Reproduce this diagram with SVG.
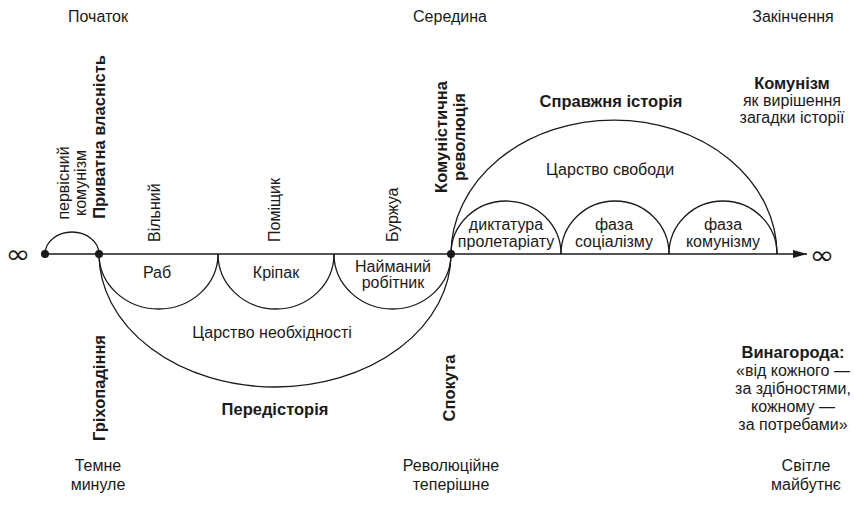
<svg xmlns="http://www.w3.org/2000/svg" width="854" height="510" viewBox="0 0 854 510">
<style>
.t{font-family:"Liberation Sans",Arial,sans-serif;font-size:16px;fill:#1a1a1a}
.b{font-weight:bold;font-size:16.5px}
.m{text-anchor:middle}
.arc{fill:none;stroke:#1a1a1a;stroke-width:1.3}
.dot{fill:#1a1a1a}
.inf{font-family:"DejaVu Sans",sans-serif;font-size:26px;fill:#1a1a1a}
</style>
<defs>
<marker id="arrow" markerWidth="14" markerHeight="8" refX="14" refY="4" orient="auto" markerUnits="userSpaceOnUse">
<path d="M0,0 L14,4 L0,8 Z" fill="#1a1a1a"/>
</marker>
</defs>
<rect width="854" height="510" fill="#ffffff"/>

<g id="connectors">
<line class="arc" x1="45" y1="254" x2="807" y2="254" stroke-width="1.4" marker-end="url(#arrow)"/>
<path class="arc" d="M45,254 A27,22 0 0 1 99,254"/>
<path class="arc" d="M99,254 A176,133 0 0 0 451,254"/>
<path class="arc" d="M99,254 A59.5,55 0 0 0 218,254"/>
<path class="arc" d="M218,254 A58,55 0 0 0 334,254"/>
<path class="arc" d="M334,254 A58.5,55 0 0 0 451,254"/>
<path class="arc" d="M451,254 A163,134 0 0 1 777,254"/>
<path class="arc" d="M451,254 A55,53 0 0 1 561,254"/>
<path class="arc" d="M561,254 A54,53 0 0 1 669,254"/>
<path class="arc" d="M669,254 A54,53 0 0 1 777,254"/>
<circle class="dot" cx="45" cy="254" r="4"/>
<circle class="dot" cx="99" cy="254" r="4"/>
<circle class="dot" cx="451" cy="254" r="4"/>
</g>

<g id="infinity-left"><text class="inf" x="18" y="263" text-anchor="middle" transform="translate(18,0) scale(1.15,1) translate(-18,0)">∞</text></g>
<g id="infinity-right"><text class="inf" x="822" y="264" text-anchor="middle" transform="translate(822,0) scale(1.15,1) translate(-822,0)">∞</text></g>

<g id="timeline-top">
<text class="t m" x="98" y="22">Початок</text>
<text class="t m" x="450" y="22">Середина</text>
<text class="t m" x="793" y="22">Закінчення</text>
</g>
<g id="timeline-bottom">
<text class="t m" x="98" y="471">Темне</text>
<text class="t m" x="98" y="490">минуле</text>
<text class="t m" x="451" y="471">Революційне</text>
<text class="t m" x="451" y="490">теперішне</text>
<text class="t m" x="806" y="471">Світле</text>
<text class="t m" x="806" y="490">майбутнє</text>
</g>

<g id="primitive-communism">
<text class="t m" transform="translate(69,183) rotate(-90)">первісний</text>
<text class="t m" transform="translate(86,183) rotate(-90)">комунізм</text>
</g>
<g id="private-property"><text class="t b m" transform="translate(105,137) rotate(-90)">Приватна власність</text></g>
<g id="fall"><text class="t b m" transform="translate(105,388) rotate(-90)">Гріхопадіння</text></g>

<g id="free"><text class="t" transform="translate(160,242) rotate(-90)">Вільний</text></g>
<g id="landlord"><text class="t" transform="translate(280,242) rotate(-90)">Поміщик</text></g>
<g id="bourgeois"><text class="t" transform="translate(398,242) rotate(-90)">Буржуа</text></g>

<g id="slave"><text class="t m" x="157" y="278">Раб</text></g>
<g id="serf"><text class="t m" x="276" y="278">Кріпак</text></g>
<g id="worker">
<text class="t m" x="393" y="272">Найманий</text>
<text class="t m" x="393" y="288">робітник</text>
</g>
<g id="necessity"><text class="t m" x="272" y="338">Царство необхідності</text></g>
<g id="prehistory"><text class="t b m" x="275" y="415">Передісторія</text></g>

<g id="revolution">
<text class="t b m" transform="translate(447,137) rotate(-90)">Комуністична</text>
<text class="t m b" transform="translate(465,137) rotate(-90)">революція</text>
</g>
<g id="redemption"><text class="t b m" transform="translate(455,388) rotate(-90)">Спокута</text></g>

<g id="true-history"><text class="t b m" x="611" y="107">Справжня історія</text></g>
<g id="freedom"><text class="t m" x="610" y="175">Царство свободи</text></g>
<g id="dictatorship">
<text class="t m" x="506" y="230">диктатура</text>
<text class="t m" x="506" y="247">пролетаріату</text>
</g>
<g id="socialism">
<text class="t m" x="614" y="230">фаза</text>
<text class="t m" x="614" y="247">соціалізму</text>
</g>
<g id="communism-phase">
<text class="t m" x="723" y="230">фаза</text>
<text class="t m" x="723" y="247">комунізму</text>
</g>

<g id="communism-end">
<text class="t b m" x="792" y="89">Комунізм</text>
<text class="t m" x="792" y="106">як вирішення</text>
<text class="t m" x="792" y="123">загадки історії</text>
</g>
<g id="reward">
<text class="t b m" x="793" y="358">Винагорода:</text>
<text class="t m" x="793" y="376">«від кожного —</text>
<text class="t m" x="793" y="394">за здібностями,</text>
<text class="t m" x="793" y="412">кожному —</text>
<text class="t m" x="793" y="430">за потребами»</text>
</g>
</svg>
